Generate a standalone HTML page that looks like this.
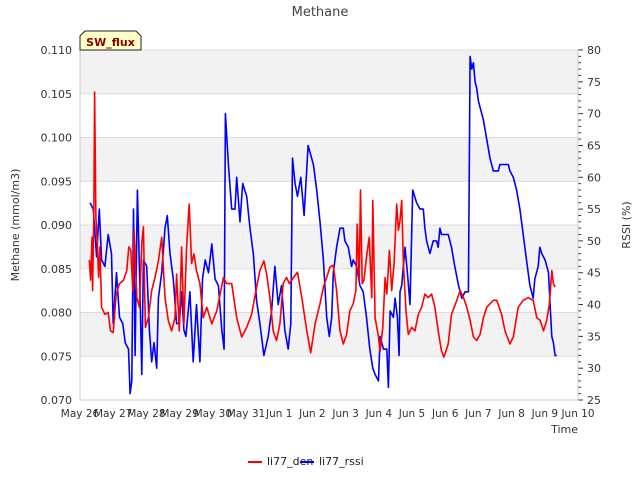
<!DOCTYPE html>
<html><head><meta charset="utf-8"><style>
body{margin:0;background:#fff}
svg text{font-family:"DejaVu Sans","Liberation Sans",sans-serif}
</style></head><body>
<svg id="chart" width="640" height="480" xmlns="http://www.w3.org/2000/svg">
<text x="320" y="16" text-anchor="middle" font-size="13" fill="#444">Methane</text>
<g id="bands"></g>
<g id="grid"></g>
<g id="axes"></g>
<g id="series"></g>
<text transform="translate(19,225) rotate(-90)" text-anchor="middle" font-size="11" fill="#333">Methane (mmol/m3)</text>
<text transform="translate(630,225) rotate(-90)" text-anchor="middle" font-size="11" fill="#333">RSSI (%)</text>
<text x="578" y="433" text-anchor="end" font-size="11" fill="#333">Time</text>
<g>
<path d="M80,50 L80,36 L85,31 L136,31 L141,36 L141,50 Z" fill="#ffffc8" stroke="#222" stroke-width="1"/>
<text x="110.5" y="46" text-anchor="middle" font-size="11" font-weight="bold" fill="#8b0000">SW_flux</text>
</g>
<g>
<line x1="248" y1="462" x2="262" y2="462" stroke="#f00" stroke-width="2"/>
<text x="267" y="465" font-size="11" fill="#222">li77_den</text>
<line x1="300" y1="462" x2="314" y2="462" stroke="#00f" stroke-width="2"/>
<text x="319" y="465" font-size="11" fill="#222">li77_rssi</text>
</g>
</svg>
<script>
const xTickLabels=["May 26","May 27","May 28","May 29","May 30","May 31","Jun 1","Jun 2","Jun 3","Jun 4","Jun 5","Jun 6","Jun 7","Jun 8","Jun 9","Jun 10"];
const yTicks=[0.070,0.075,0.080,0.085,0.090,0.095,0.100,0.105,0.110];
const y2Ticks=[25,30,35,40,45,50,55,60,65,70,75,80];
const denT=[0.28,0.32,0.36,0.38,0.42,0.44,0.48,0.52,0.56,0.60,0.65,0.75,0.85,0.92,1.00,1.09,1.19,1.31,1.41,1.47,1.53,1.59,1.63,1.71,1.79,1.86,1.91,1.97,2.06,2.16,2.26,2.36,2.46,2.56,2.66,2.76,2.86,2.91,2.99,3.06,3.13,3.21,3.29,3.36,3.43,3.51,3.61,3.71,3.82,3.97,4.12,4.22,4.32,4.42,4.57,4.72,4.87,5.02,5.17,5.32,5.42,5.54,5.62,5.72,5.82,5.92,6.02,6.12,6.22,6.31,6.43,6.55,6.68,6.83,6.95,7.08,7.23,7.33,7.43,7.53,7.63,7.73,7.83,7.93,8.03,8.13,8.23,8.31,8.35,8.41,8.45,8.50,8.55,8.63,8.71,8.79,8.82,8.89,8.99,9.04,9.12,9.19,9.24,9.32,9.39,9.46,9.54,9.59,9.64,9.69,9.74,9.82,9.89,9.99,10.09,10.19,10.29,10.39,10.49,10.59,10.69,10.79,10.89,10.96,11.09,11.19,11.35,11.45,11.55,11.65,11.75,11.85,11.95,12.05,12.15,12.25,12.45,12.55,12.70,12.80,12.95,13.05,13.20,13.35,13.50,13.65,13.76,13.86,13.96,14.06,14.14,14.21,14.26,14.31];
const denV=[0.0860,0.0837,0.0886,0.0825,0.0917,0.1052,0.0909,0.0879,0.0840,0.0875,0.0806,0.0798,0.0800,0.0779,0.0777,0.0821,0.0833,0.0837,0.0848,0.0875,0.0871,0.0825,0.0894,0.0817,0.0806,0.0879,0.0898,0.0783,0.0794,0.0825,0.0840,0.0859,0.0886,0.0817,0.0791,0.0779,0.0794,0.0844,0.0779,0.0875,0.0787,0.0875,0.0924,0.0856,0.0867,0.0848,0.0833,0.0794,0.0806,0.0787,0.0802,0.0821,0.0840,0.0833,0.0833,0.0794,0.0772,0.0783,0.0798,0.0829,0.0848,0.0859,0.0844,0.0817,0.0779,0.0768,0.0787,0.0833,0.0840,0.0833,0.0840,0.0846,0.0817,0.0779,0.0754,0.0787,0.0810,0.0829,0.0840,0.0852,0.0854,0.0825,0.0779,0.0764,0.0775,0.0802,0.0810,0.0825,0.0901,0.0837,0.0940,0.0833,0.0837,0.0863,0.0886,0.0817,0.0928,0.0794,0.0772,0.0756,0.0783,0.0840,0.0821,0.0871,0.0825,0.0856,0.0924,0.0894,0.0905,0.0928,0.0856,0.0802,0.0775,0.0783,0.0779,0.0798,0.0806,0.0821,0.0817,0.0821,0.0806,0.0779,0.0756,0.0749,0.0764,0.0798,0.0814,0.0825,0.0817,0.0806,0.0791,0.0772,0.0768,0.0775,0.0794,0.0806,0.0814,0.0814,0.0798,0.0779,0.0764,0.0772,0.0806,0.0814,0.0817,0.0814,0.0794,0.0791,0.0779,0.0791,0.0810,0.0848,0.0833,0.0829];
const rssiT=[0.30,0.40,0.50,0.58,0.65,0.75,0.85,0.95,1.00,1.10,1.19,1.29,1.36,1.46,1.51,1.56,1.61,1.66,1.73,1.79,1.86,1.91,2.01,2.09,2.16,2.23,2.31,2.36,2.46,2.56,2.63,2.71,2.81,2.91,2.99,3.06,3.13,3.19,3.31,3.41,3.51,3.61,3.69,3.77,3.87,3.97,4.07,4.17,4.27,4.34,4.38,4.47,4.57,4.67,4.72,4.82,4.90,5.02,5.12,5.22,5.32,5.42,5.54,5.67,5.77,5.87,5.97,6.07,6.17,6.27,6.35,6.40,6.48,6.55,6.65,6.75,6.87,7.03,7.13,7.23,7.33,7.43,7.51,7.58,7.63,7.73,7.83,7.93,7.98,8.08,8.18,8.23,8.33,8.43,8.53,8.63,8.73,8.82,8.89,8.99,9.04,9.14,9.24,9.29,9.34,9.44,9.49,9.56,9.61,9.64,9.69,9.79,9.86,9.94,10.02,10.14,10.24,10.34,10.39,10.44,10.54,10.64,10.74,10.79,10.84,10.89,11.09,11.19,11.29,11.40,11.50,11.60,11.70,11.75,11.80,11.85,11.90,11.95,12.00,12.15,12.25,12.35,12.45,12.60,12.65,12.90,12.95,13.05,13.15,13.25,13.35,13.45,13.55,13.65,13.70,13.80,13.85,13.91,14.01,14.11,14.16,14.21,14.26,14.31,14.36];
const rssiV=[56,55,47.5,55,47,46,51,48,37,45,38,37,34,33,26,28,55,32,58,46,29,47,46,36,31,34,30,41,45,52,54,48,44,37,37,42,36,35,42,31,40,31,44,47,45,49.5,44,43,36,33,70,62,55,55,60,53,59,57,52,48,40.6,37,32,35,39,46,40,43,36,33,37,63,59,57,60,54,65,62,58,53,47,38,35,38,45,49,52,52,50,49,46,47,46,43,42,38,33,30,29,28,35,33,33,27,39,38,41,38,32,42,43,49,45,40,58,56,55,55,52,50,48,50,50,49,52,51,51,49,46,43,41,42,42,79,77,78,75,74,72,69,66,63,61,61,62,62,61,60,58,55,51,47,43,41,44,46,49,48,47,45,40,35,34,32,32];

const L=80,R=578,T=50,B=400,NS="http://www.w3.org/2000/svg";
const xS=t=>L+t*(R-L)/15;
const yS=v=>B-(v-0.070)/0.040*(B-T);
const y2S=v=>B-(v-25)/55*(B-T);
function mk(tag,attrs,parent){const e=document.createElementNS(NS,tag);for(const k in attrs)e.setAttribute(k,attrs[k]);parent.appendChild(e);return e;}
const bands=document.getElementById('bands'),grid=document.getElementById('grid'),axes=document.getElementById('axes'),series=document.getElementById('series');
for(let i=0;i<yTicks.length-1;i++){
  if(i%2===1){const r=mk('rect',{x:L,y:yS(yTicks[i+1]),width:R-L,height:yS(yTicks[i])-yS(yTicks[i+1]),fill:'#f2f2f2'},bands);
  
  }
}
yTicks.forEach(v=>{
  const y=yS(v);
  const g=mk('line',{x1:L,x2:R,y1:y,y2:y,stroke:'#dcdcdc','stroke-width':1},grid);
  
  
  const t=mk('text',{x:L-8,y:y+4,'text-anchor':'end','font-size':11,fill:'#333'},axes);
  t.textContent=v.toFixed(3);
  
  
});
for(let v=25;v<=80;v++){
  const y=y2S(v);
  const tk=mk('line',{x1:R,x2:R+(v%5===0?5:3),y1:y,y2:y,stroke:'#333','stroke-width':1},axes);
  
  
}
y2Ticks.forEach(v=>{
  const t=mk('text',{x:R+9,y:y2S(v)+4,'font-size':11,fill:'#333'},axes);
  t.textContent=v;
  
  
});
xTickLabels.forEach((s,i)=>{
  const t=mk('text',{x:xS(i),y:417,'text-anchor':'middle','font-size':10.5,fill:'#333'},axes);
  t.textContent=s;
  
  
});
const ax=mk('path',{d:`M${L},${T}V${B}H${R}V${T}`,fill:'none',stroke:'#ccc','stroke-width':1},axes);


const pr=mk('polyline',{points:rssiT.map((t,i)=>xS(t).toFixed(1)+','+y2S(rssiV[i]).toFixed(1)).join(' '),fill:'none',stroke:'#00f','stroke-width':1.6,'stroke-linejoin':'round'},series);


const pd=mk('polyline',{points:denT.map((t,i)=>xS(t).toFixed(1)+','+yS(denV[i]).toFixed(1)).join(' '),fill:'none',stroke:'#f00','stroke-width':1.6,'stroke-linejoin':'round'},series);


</script>
</body></html>
